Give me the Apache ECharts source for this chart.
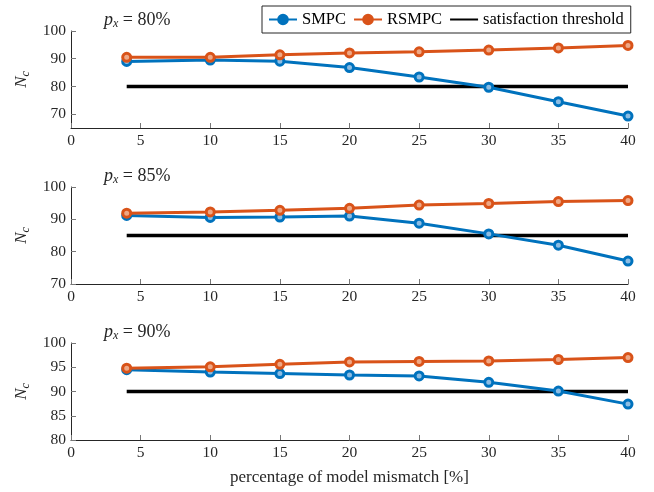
<!DOCTYPE html>
<html>
<head>
<meta charset="utf-8">
<script src="https://cdn.jsdelivr.net/npm/echarts@6/dist/echarts.min.js"></script>
<style>
html,body{margin:0;padding:0;background:#fff;}
#main{width:654px;height:492px;}
</style>
</head>
<body>
<div id="main"></div>
<script>
// ---- data ----
const xVals = [4, 10, 15, 20, 25, 30, 35, 40];
const smpc80 = [89.0, 89.5, 89.1, 86.8, 83.4, 79.7, 74.5, 69.3];
const rsmpc80 = [90.5, 90.5, 91.4, 92.1, 92.5, 93.1, 93.9, 94.8];
const smpc85 = [91.2, 90.6, 90.7, 91.0, 88.8, 85.5, 82.0, 77.1];
const rsmpc85 = [91.9, 92.3, 92.8, 93.4, 94.4, 94.9, 95.5, 95.8];
const smpc90 = [94.5, 94.0, 93.7, 93.4, 93.2, 91.9, 90.1, 87.4];
const rsmpc90 = [94.8, 95.1, 95.6, 96.1, 96.2, 96.3, 96.6, 97.0];
const thresholds = [80, 85, 90];
const thresholdX = [4, 40];
const panelLabels = ['80%', '85%', '90%'];
const yMins = [65, 70, 80];
const yMaxs = [100, 100, 100];
const yTickValues = [[70, 80, 90, 100], [70, 80, 90, 100], [80, 85, 90, 95, 100]];
const xName = 'percentage of model mismatch [%]';
const seriesNames = ['SMPC', 'RSMPC', 'satisfaction threshold'];

const BLUE = '#0072BD', ORANGE = '#D95319', INK = '#262626';
const BLUE_IN = '#8dbde3', ORANGE_IN = '#eea886';
const FONT = 'Liberation Serif';
const gridTops = [31, 187, 343];
const gridH = 97;

const pair = (xs, ys) => xs.map((x, i) => [x, ys[i]]);
const smpcAll = [smpc80, smpc85, smpc90];
const rsmpcAll = [rsmpc80, rsmpc85, rsmpc90];

const grids = [], xAxes = [], yAxes = [], series = [], graphics = [];
for (let p = 0; p < 3; p++) {
  grids.push({left: 71, right: 26, top: gridTops[p], height: gridH});
  xAxes.push({
    type: 'value', gridIndex: p, min: 0, max: 40, interval: 5,
    axisLine: {show: true, onZero: false, lineStyle: {color: INK, width: 1}},
    axisTick: {show: true, inside: true, length: 5, lineStyle: {color: '#777'}},
    axisLabel: {color: INK, fontFamily: FONT, fontSize: 15.5, margin: 5},
    splitLine: {show: false}
  });
  yAxes.push({
    type: 'value', gridIndex: p, min: yMins[p], max: yMaxs[p],
    axisLine: {show: true, onZero: false, lineStyle: {color: INK, width: 1}},
    axisTick: {show: true, inside: true, length: 5, lineStyle: {color: '#777'}, customValues: yTickValues[p]},
    axisLabel: {color: INK, fontFamily: FONT, fontSize: 15.5, margin: 5, customValues: yTickValues[p]},
    splitLine: {show: false}
  });
  series.push({
    name: seriesNames[2], type: 'line', xAxisIndex: p, yAxisIndex: p,
    data: pair(thresholdX, [thresholds[p], thresholds[p]]),
    symbol: 'none', lineStyle: {color: '#000', width: 3.5}, itemStyle: {color: '#000'},
    silent: true, animation: false
  });
  series.push({
    name: seriesNames[0], type: 'line', xAxisIndex: p, yAxisIndex: p,
    data: pair(xVals, smpcAll[p]),
    symbol: 'circle', symbolSize: 8, showAllSymbol: true,
    lineStyle: {color: BLUE, width: 3}, itemStyle: {color: BLUE_IN, borderColor: BLUE, borderWidth: 3},
    animation: false
  });
  series.push({
    name: seriesNames[1], type: 'line', xAxisIndex: p, yAxisIndex: p,
    data: pair(xVals, rsmpcAll[p]),
    symbol: 'circle', symbolSize: 8, showAllSymbol: true,
    lineStyle: {color: ORANGE, width: 3}, itemStyle: {color: ORANGE_IN, borderColor: ORANGE, borderWidth: 3},
    animation: false
  });
  // panel label p_x = ..%
  graphics.push({
    type: 'text', left: 104, top: gridTops[p] - 20,
    style: {
      text: '{p|p}{s|x}{t| = ' + panelLabels[p] + '}',
      rich: {
        p: {fontFamily: FONT, fontStyle: 'italic', fontSize: 18, fill: INK},
        s: {fontFamily: FONT, fontStyle: 'italic', fontSize: 12, fill: INK, verticalAlign: 'bottom', padding: [7, 0, 0, 0]},
        t: {fontFamily: FONT, fontSize: 18, fill: INK}
      }
    }
  });
  // y-axis name N_c
  graphics.push({
    type: 'text', x: 22, y: gridTops[p] + gridH / 2, rotation: Math.PI / 2,
    style: {
      text: '{n|N}{c|c}', align: 'center', verticalAlign: 'middle',
      rich: {
        n: {fontFamily: FONT, fontStyle: 'italic', fontSize: 17, fill: INK},
        c: {fontFamily: FONT, fontStyle: 'italic', fontSize: 12, fill: INK, padding: [7, 0, 0, 0]}
      }
    }
  });
}
graphics.push({
  type: 'text', x: 349.5, y: 478,
  style: {text: xName, align: 'center', verticalAlign: 'middle', fontFamily: FONT, fontSize: 17, fill: INK}
});

const chart = echarts.init(document.getElementById('main'), null, {renderer: 'canvas'});
chart.setOption({
  backgroundColor: '#fff',
  animation: false,
  grid: grids, xAxis: xAxes, yAxis: yAxes, series: series,
  legend: {
    data: [
      {name: seriesNames[0], itemStyle: {color: BLUE, borderColor: BLUE}},
      {name: seriesNames[1], itemStyle: {color: ORANGE, borderColor: ORANGE}},
      {name: seriesNames[2], itemStyle: {color: 'rgba(0,0,0,0)', borderColor: 'rgba(0,0,0,0)', borderWidth: 0, opacity: 0}}
    ],
    left: 262, top: 6, orient: 'horizontal',
    itemWidth: 28, itemHeight: 12, itemGap: 7,
    padding: [5, 7, 5, 6],
    borderColor: INK, borderWidth: 1, backgroundColor: '#fff',
    textStyle: {fontFamily: FONT, fontSize: 16.5, color: '#000', padding: [0, 0, 0, 0]},
    selectedMode: false
  },
  graphic: graphics
});
</script>
</body>
</html>
